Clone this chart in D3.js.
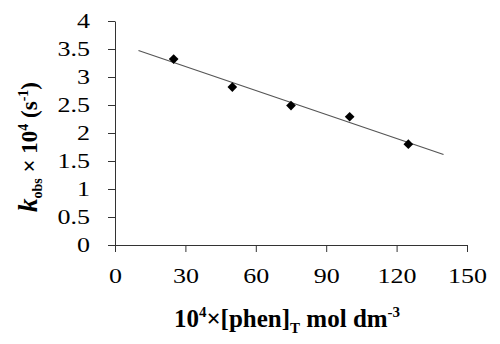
<!DOCTYPE html>
<html>
<head>
<meta charset="utf-8">
<script src="https://cdn.jsdelivr.net/npm/d3@7"></script>
<style>
  body { margin: 0; background: #fff; }
  svg text { font-family: "Liberation Serif", "Times New Roman", serif; }
</style>
</head>
<body>
<div id="chart"></div>
<script>
// data
const phen = [25, 50, 75, 100, 125]
const kobs = [3.32, 2.82, 2.49, 2.29, 1.80]
const fitRange = [10, 140]
const xTicks = [0, 30, 60, 90, 120, 150]
const yTicks = [0, 0.5, 1, 1.5, 2, 2.5, 3, 3.5, 4]

const width = 500
const height = 344
const margin = { top: 21, left: 115, right: 33, bottom: 99 }
const stretch = 1.3

const svg = d3.select('#chart')
  .append('svg')
  .attr('width', width)
  .attr('height', height)

const x = d3.scaleLinear().domain([0, 150]).range([margin.left, width - margin.right])
const y = d3.scaleLinear().domain([0, 4]).range([height - margin.bottom, margin.top])

// y axis
const yAxis = svg.append('g')
  .attr('transform', `translate(${margin.left},0)`)
  .call(d3.axisLeft(y).tickValues(yTicks).tickSize(7).tickSizeOuter(0)
    .tickFormat(d3.format('')))
yAxis.select('.domain').attr('stroke', '#333')
yAxis.selectAll('.tick line').attr('stroke', '#333')
yAxis.selectAll('text')
  .style('font-size', '20px')
  .attr('fill', '#000')
  .attr('x', -25 / stretch)
  .attr('transform', `scale(${stretch},1)`)

// x axis
const xAxis = svg.append('g')
  .attr('transform', `translate(0,${height - margin.bottom})`)
  .call(d3.axisBottom(x).tickValues(xTicks).tickSize(7).tickSizeOuter(0).tickPadding(17))
xAxis.select('.domain').attr('stroke', '#333')
xAxis.selectAll('.tick line').attr('stroke', '#333')
xAxis.selectAll('text')
  .style('font-size', '20px')
  .attr('fill', '#000')
  .attr('transform', `scale(${stretch},1)`)

// least squares trend line
const mx = d3.mean(phen), my = d3.mean(kobs)
const slope = d3.sum(phen, (d, i) => (d - mx) * (kobs[i] - my)) / d3.sum(phen, d => (d - mx) ** 2)
const icpt = my - slope * mx
svg.append('line')
  .attr('x1', x(fitRange[0])).attr('y1', y(icpt + slope * fitRange[0]))
  .attr('x2', x(fitRange[1])).attr('y2', y(icpt + slope * fitRange[1]))
  .attr('stroke', '#555')
  .attr('stroke-width', 1.2)

// points
svg.selectAll('path.pt')
  .data(phen)
  .enter()
  .append('path')
  .attr('class', 'pt')
  .attr('d', d3.symbol().type(d3.symbolDiamond2).size(60))
  .attr('transform', (d, i) => `translate(${x(d)},${y(kobs[i])})`)
  .attr('fill', '#000')

// y label
const yl = svg.append('text')
  .attr('transform', `translate(37,${(y(0) + y(4)) / 2 + 14}) rotate(-90)`)
  .attr('text-anchor', 'middle')
  .style('font-size', '23px')
  .style('font-weight', 'bold')
yl.append('tspan').style('font-style', 'italic').style('font-size', '27px').text('k')
yl.append('tspan').attr('dy', 5).style('font-size', '14px').text('obs')
yl.append('tspan').attr('dy', -5).text(' × 10')
yl.append('tspan').attr('dy', -9).style('font-size', '14px').text('4')
yl.append('tspan').attr('dy', 9).text(' (s')
yl.append('tspan').attr('dy', -9).style('font-size', '14px').text('-1')
yl.append('tspan').attr('dy', 9).text(')')

// x label
const xl = svg.append('text')
  .attr('x', 287)
  .attr('y', 327)
  .attr('text-anchor', 'middle')
  .style('font-size', '25px')
  .style('font-weight', 'bold')
xl.append('tspan').text('10')
xl.append('tspan').attr('dy', -10).style('font-size', '15px').text('4')
xl.append('tspan').attr('dy', 10).text('×[phen]')
xl.append('tspan').attr('dy', 6).style('font-size', '15px').text('T')
xl.append('tspan').attr('dy', -6).text(' mol dm')
xl.append('tspan').attr('dy', -10).style('font-size', '15px').text('-3')
</script>
</body>
</html>
